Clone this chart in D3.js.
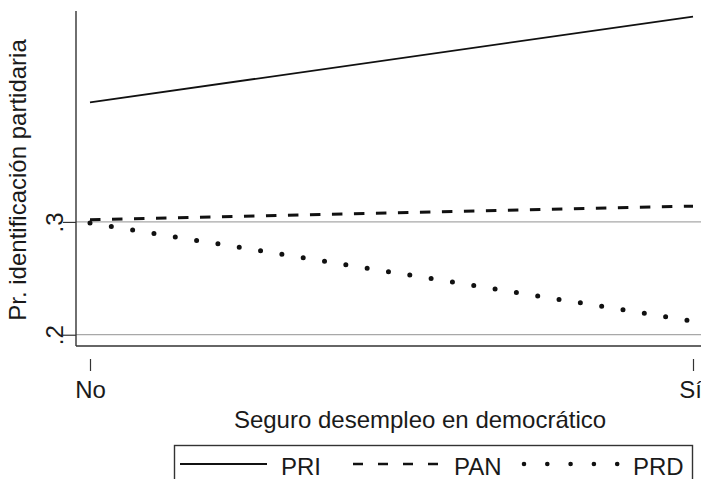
<!DOCTYPE html>
<html><head><meta charset="utf-8">
<script src="https://cdn.jsdelivr.net/npm/d3@7"></script>
<style>
body{margin:0;background:#fff;}
svg text{font-family:"Liberation Sans",Arial,Helvetica,sans-serif;fill:#1a1a1a;}
</style>
</head><body>
<svg id="c" width="701" height="479"></svg>
<script>
// ---- data ----
const categories = ["No", "Sí"];
const seriesNames = ["PRI", "PAN", "PRD"];
const priValues = [0.406, 0.482];
const panValues = [0.302, 0.314];
const prdValues = [0.299, 0.212];
const yTicks = [0.2, 0.3];
const yTickLabels = [".2", ".3"];
const xTitle = "Seguro desempleo en democrático";
const yTitle = "Pr. identificación partidaria";

// ---- layout ----
const svg = d3.select("#c");
const plotLeft = 76, plotRight = 701, plotTop = 11, plotBottom = 346;
const x = d3.scalePoint().domain(categories).range([90, 693]);
const y = d3.scaleLinear().domain([0.19, 0.487]).range([plotBottom, plotTop]);

// grid lines
svg.append("g").selectAll("line").data(yTicks).join("line")
  .attr("x1", plotLeft).attr("x2", plotRight)
  .attr("y1", d => y(d)).attr("y2", d => y(d))
  .attr("stroke", "#a8a8a8").attr("stroke-width", 1.2);

// y axis
const yAxis = d3.axisLeft(y).tickValues(yTicks).tickSize(13)
  .tickFormat((d, i) => yTickLabels[i]);
const gy = svg.append("g").attr("transform", `translate(${plotLeft},0)`).call(yAxis);
gy.select(".domain").remove();
gy.selectAll(".tick line").attr("stroke", "#333").attr("stroke-width", 1.2);
gy.selectAll(".tick text")
  .attr("x", null).attr("dy", null)
  .attr("transform", "translate(-13,0) rotate(-90)")
  .attr("text-anchor", "middle")
  .attr("font-size", 24).attr("fill", "#1a1a1a");

// axis frame lines
svg.append("line").attr("x1", plotLeft).attr("x2", plotLeft)
  .attr("y1", plotTop).attr("y2", plotBottom)
  .attr("stroke", "#333").attr("stroke-width", 1.4);
svg.append("line").attr("x1", plotLeft).attr("x2", plotRight)
  .attr("y1", plotBottom).attr("y2", plotBottom)
  .attr("stroke", "#333").attr("stroke-width", 1.4);

// x axis
const xAxis = d3.axisBottom(x).tickSize(12).tickPadding(0);
const gx = svg.append("g").attr("transform", "translate(0,359)").call(xAxis);
gx.select(".domain").remove();
gx.selectAll(".tick line").attr("stroke", "#333").attr("stroke-width", 1.2);
gx.selectAll(".tick text")
  .attr("y", 39).attr("dy", null)
  .attr("dx", (d, i) => i === categories.length - 1 ? -3 : 0)
  .attr("font-size", 24).attr("fill", "#1a1a1a");

// titles
svg.append("text").attr("x", 420).attr("y", 428).attr("text-anchor", "middle")
  .attr("font-size", 24).text(xTitle);
svg.append("text").attr("transform", "translate(26,180) rotate(-90)")
  .attr("text-anchor", "middle").attr("font-size", 24).text(yTitle);

// lines
const series = [
  {name: seriesNames[0], values: priValues, dash: null, width: 1.8, cap: "butt"},
  {name: seriesNames[1], values: panValues, dash: "10.5 11.5", width: 3, cap: "butt"},
  {name: seriesNames[2], values: prdValues, dash: "0 21.6", width: 5, cap: "round"}
];
const line = d3.line().x(d => x(d.c)).y(d => y(d.v));
svg.append("g").selectAll("path").data(series).join("path")
  .attr("d", s => line(s.values.map((v, i) => ({c: categories[i], v}))))
  .attr("fill", "none").attr("stroke", "#111")
  .attr("stroke-width", s => s.width)
  .attr("stroke-dasharray", s => s.dash)
  .attr("stroke-linecap", s => s.cap);

// legend
const lg = svg.append("g");
lg.append("rect").attr("x", 174.5).attr("y", 445.5).attr("width", 518).attr("height", 60)
  .attr("fill", "none").attr("stroke", "#333").attr("stroke-width", 1.4);
const legendItems = [
  {x0: 180, x1: 267, tx: 281, dash: null, width: 2, cap: "butt"},
  {x0: 353, x1: 441, tx: 454, dash: "10 15", width: 2.6, cap: "butt"},
  {x0: 524, x1: 618, tx: 633, dash: "0 23.3", width: 4.6, cap: "round"}
];
legendItems.forEach((it, i) => {
  lg.append("line").attr("x1", it.x0).attr("x2", it.x1).attr("y1", 464).attr("y2", 464)
    .attr("stroke", "#111").attr("stroke-width", it.width)
    .attr("stroke-dasharray", it.dash).attr("stroke-linecap", it.cap);
  lg.append("text").attr("x", it.tx).attr("y", 475).attr("font-size", 24).text(series[i].name);
});
</script>
</body></html>
